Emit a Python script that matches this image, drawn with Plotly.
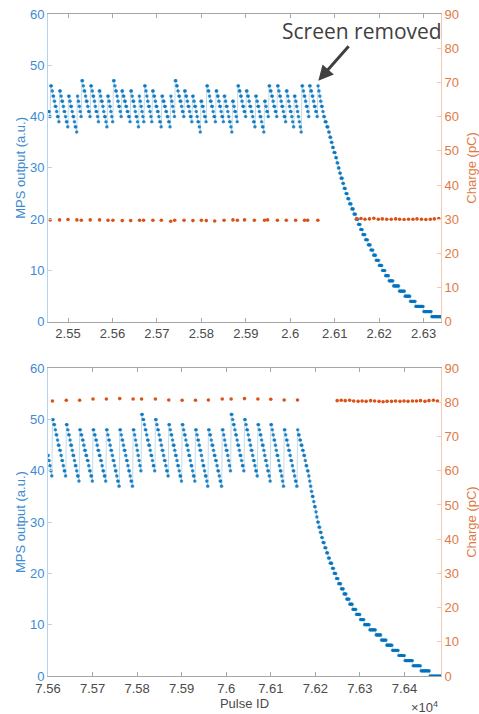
import plotly.graph_objects as go

# ---------------- DATA ----------------
# Top panel: MPS output (a.u.), integer levels. Each sawtooth starts at a pulse ID
top_tooth_start = [25456, 25461, 25481, 25501, 25521, 25531, 25551, 25570, 25589,
                   25602, 25621, 25641, 25660, 25672, 25690, 25711, 25731, 25741,
                   25762, 25780, 25799, 25812, 25833, 25851, 25870, 25882, 25901,
                   25922, 25942, 25952, 25971, 25991, 26009, 26026, 26043]
top_tooth_levels = [
    [41, 40],
    [46, 45, 44, 43, 42, 41, 40, 39],
    [45, 44, 43, 42, 41, 40, 39, 38],
    [44, 43, 42, 41, 40, 39, 38, 37],
    [44, 43, 42, 41, 40],
    [47, 46, 45, 44, 43, 42, 41, 40],
    [46, 45, 44, 43, 42, 41, 40, 39],
    [45, 44, 43, 42, 41, 40, 39, 38],
    [44, 43, 42, 41, 40, 39],
    [47, 46, 45, 44, 43, 42, 41, 40],
    [45, 44, 43, 42, 41, 40, 39],
    [45, 44, 43, 42, 41, 40, 39, 38],
    [44, 43, 42, 41, 40, 39],
    [46, 45, 44, 43, 42, 41, 40, 39],
    [45, 44, 43, 42, 41, 40, 39, 38],
    [44, 43, 42, 41, 40, 39, 38],
    [44, 43, 42, 41, 40],
    [47, 46, 45, 44, 43, 42, 41, 40],
    [45, 44, 43, 42, 41, 40, 39],
    [44, 43, 42, 41, 40, 39, 38, 37],
    [43, 42, 41, 40, 39],
    [46, 45, 44, 43, 42, 41, 40, 39],
    [45, 44, 43, 42, 41, 40, 39],
    [44, 43, 42, 41, 40, 39, 38, 37],
    [43, 42, 41, 40, 39],
    [46, 45, 44, 43, 42, 41, 40],
    [45, 44, 43, 42, 41, 40, 39, 38],
    [44, 43, 42, 41, 40, 39, 38, 37],
    [43, 42, 41, 40],
    [46, 45, 44, 43, 42, 41, 40],
    [46, 45, 44, 43, 42, 41, 40, 39],
    [45, 44, 43, 42, 41, 40, 39, 38],
    [44, 43, 42, 41, 40, 39, 38, 37],
    [46, 45, 44, 43, 42, 41, 40],
    [46, 45, 44, 43, 42, 41, 40],
]
# After the screen is removed: level and the pulse ID where that level begins
top_decay_level = [46, 45, 44, 43, 42, 41, 40, 39, 38, 37, 36, 35, 34, 33, 32, 31,
                   30, 29, 28, 27, 26, 25, 24, 23, 22, 21, 20, 19, 18, 17, 16, 15,
                   14, 13, 12, 11, 10, 9, 8, 7, 6, 5, 4, 3, 2, 1]
top_decay_start = [26062, 26064, 26066, 26068, 26070, 26073, 26075, 26078, 26082,
                   26086, 26089, 26092, 26095, 26098, 26102, 26105, 26108, 26111,
                   26114, 26118, 26121, 26125, 26129, 26133, 26138, 26143, 26148,
                   26153, 26158, 26163, 26169, 26175, 26181, 26187, 26193, 26200,
                   26207, 26214, 26222, 26232, 26245, 26258, 26270, 26282, 26300,
                   26318]
top_decay_end = 26340

# Top panel: charge (pC)
top_q_x = [25460, 25481, 25500, 25520, 25530, 25550, 25571, 25590, 25601, 25622,
           25641, 25661, 25670, 25691, 25710, 25731, 25740, 25761, 25781, 25800,
           25811, 25830, 25851, 25871, 25881, 25897, 25919, 25942, 25949, 25971,
           25991, 26012, 26032, 26039, 26062,
           26149, 26159, 26168, 26178, 26188, 26198, 26207, 26217, 26227, 26237,
           26246, 26256, 26266, 26276, 26285, 26295, 26305, 26315, 26324, 26334]
top_q = [29.8, 29.8, 29.9, 29.8, 29.7, 29.8, 29.8, 29.7, 29.7, 29.6,
         29.6, 29.7, 29.7, 29.7, 29.7, 29.4, 29.7, 29.7, 29.6, 29.7,
         29.6, 29.5, 29.7, 29.8, 29.7, 29.8, 29.7, 29.7, 29.8, 29.7,
         29.7, 29.7, 29.7, 29.7, 29.7,
         30.1, 30.2, 30.0, 30.1, 30.3, 30.0, 30.1, 30.0, 30.0, 30.1,
         30.0, 29.9, 30.0, 30.0, 30.1, 30.0, 29.9, 30.0, 30.1, 30.2]

# Bottom panel: MPS output (a.u.)
bot_tooth_start = [75600, 75610, 75641, 75671, 75701, 75731, 75761, 75791, 75810,
                   75841, 75871, 75901, 75931, 75960, 75991, 76011, 76041, 76071,
                   76100, 76130]
bot_tooth_levels = [
    [43, 42, 41, 40, 39],
    [50, 49, 48, 47, 46, 45, 44, 43, 42, 41, 40, 39],
    [49, 48, 47, 46, 45, 44, 43, 42, 41, 40, 39, 38],
    [48, 47, 46, 45, 44, 43, 42, 41, 40, 39, 38],
    [48, 47, 46, 45, 44, 43, 42, 41, 40, 39, 38],
    [48, 47, 46, 45, 44, 43, 42, 41, 40, 39, 38, 37],
    [48, 47, 46, 45, 44, 43, 42, 41, 40, 39, 38, 37],
    [48, 47, 46, 45, 44, 43, 42, 41, 40],
    [51, 50, 49, 48, 47, 46, 45, 44, 43, 42, 41, 40],
    [50, 49, 48, 47, 46, 45, 44, 43, 42, 41, 40, 39],
    [49, 48, 47, 46, 45, 44, 43, 42, 41, 40, 39, 38],
    [49, 48, 47, 46, 45, 44, 43, 42, 41, 40, 39, 38],
    [48, 47, 46, 45, 44, 43, 42, 41, 40, 39, 38, 37],
    [48, 47, 46, 45, 44, 43, 42, 41, 40, 39, 38, 37],
    [48, 47, 46, 45, 44, 43, 42, 41, 40],
    [51, 50, 49, 48, 47, 46, 45, 44, 43, 42, 41, 40],
    [50, 49, 48, 47, 46, 45, 44, 43, 42, 41, 40, 39],
    [49, 48, 47, 46, 45, 44, 43, 42, 41, 40, 39, 38],
    [49, 48, 47, 46, 45, 44, 43, 42, 41, 40, 39, 38, 37],
    [48, 47, 46, 45, 44, 43, 42, 41, 40, 39, 38, 37],
]
bot_decay_level = [48, 47, 46, 45, 44, 43, 42, 41, 40, 39, 38, 37, 36, 35, 34, 33,
                   32, 31, 30, 29, 28, 27, 26, 25, 24, 23, 22, 21, 20, 19, 18, 17,
                   16, 15, 14, 13, 12, 11, 10, 9, 8, 7, 6, 5, 4, 3, 2, 1, 0]
bot_decay_start = [76160, 76162, 76165, 76168, 76171, 76174, 76177, 76179, 76182,
                   76185, 76187, 76189, 76191, 76193, 76196, 76198, 76201, 76203,
                   76205, 76208, 76211, 76214, 76217, 76221, 76225, 76229, 76233,
                   76238, 76242, 76247, 76252, 76258, 76264, 76270, 76277, 76284,
                   76292, 76301, 76310, 76322, 76336, 76348, 76360, 76373, 76387,
                   76401, 76419, 76437, 76457]
bot_decay_end = 76483

bot_q_x = [75610, 75641, 75671, 75701, 75731, 75761, 75791, 75810, 75841, 75871,
           75901, 75931, 75960, 75991, 76011, 76041, 76071, 76100, 76130, 76160,
           76249, 76258, 76267, 76277, 76286, 76296, 76305, 76314, 76324, 76333,
           76343, 76352, 76361, 76371, 76380, 76390, 76399, 76408, 76418, 76427,
           76436, 76446, 76455, 76465, 76474]
bot_q = [80.4, 80.6, 80.6, 81.0, 81.0, 81.1, 81.0, 81.0, 81.0, 80.7,
         80.6, 80.6, 80.7, 81.0, 81.0, 81.1, 81.0, 80.9, 80.7, 80.7,
         80.5, 80.6, 80.5, 80.6, 80.4, 80.3, 80.4, 80.3, 80.5, 80.4,
         80.3, 80.2, 80.3, 80.3, 80.4, 80.3, 80.4, 80.3, 80.4, 80.4,
         80.5, 80.3, 80.5, 80.6, 80.4]

top_ticks = [25500, 25600, 25700, 25800, 25900, 26000, 26100, 26200, 26300]
top_ticktext = ["2.55", "2.56", "2.57", "2.58", "2.59", "2.6", "2.61", "2.62", "2.63"]
bot_ticks = [75600, 75700, 75800, 75900, 76000, 76100, 76200, 76300, 76400]
bot_ticktext = ["7.56", "7.57", "7.58", "7.59", "7.6", "7.61", "7.62", "7.63", "7.64"]


# ---------------- expand the read levels to one sample per pulse ----------------
def expand(tooth_start, tooth_levels, decay_level, decay_start, decay_end):
    xs, ys = [], []
    ends = tooth_start[1:] + [decay_start[0]]
    for s, e, lv in zip(tooth_start, ends, tooth_levels):
        n = len(lv)
        for p in range(s, e):
            k = min(int((p - s) * n / (e - s)), n - 1)
            xs.append(p)
            ys.append(lv[k])
    dends = decay_start[1:] + [decay_end]
    for lv, s, e in zip(decay_level, decay_start, dends):
        for p in range(s, e):
            xs.append(p)
            ys.append(lv)
    return xs, ys


top_x, top_y = expand(top_tooth_start, top_tooth_levels, top_decay_level,
                      top_decay_start, top_decay_end)
bot_x, bot_y = expand(bot_tooth_start, bot_tooth_levels, bot_decay_level,
                      bot_decay_start, bot_decay_end)

BLUE = "#0072BD"
ORANGE = "#D95319"
BLUE_TXT = "#3d8bd1"
ORANGE_TXT = "#e07a45"
BLUE_LINE = "#b3d4ee"
ORANGE_LINE = "#f6c9b0"
GRAY_TXT = "#4a4a4a"
FONT = "Liberation Sans"

fig = go.Figure()

blue_marker = dict(size=3.2, color=BLUE, opacity=0.6)
blue_line = dict(color="rgba(0,114,189,0.25)", width=1)
orange_marker = dict(size=3.6, color=ORANGE)

fig.add_trace(go.Scatter(x=top_x, y=top_y, mode="lines+markers", marker=blue_marker,
                         line=blue_line, xaxis="x", yaxis="y", showlegend=False))
fig.add_trace(go.Scatter(x=top_q_x, y=top_q, mode="markers", marker=orange_marker,
                         xaxis="x", yaxis="y2", showlegend=False))
fig.add_trace(go.Scatter(x=bot_x, y=bot_y, mode="lines+markers", marker=blue_marker,
                         line=blue_line, xaxis="x2", yaxis="y3", showlegend=False))
fig.add_trace(go.Scatter(x=bot_q_x, y=bot_q, mode="markers", marker=orange_marker,
                         xaxis="x2", yaxis="y4", showlegend=False))

xcommon = dict(showgrid=False, zeroline=False, showline=True, linecolor="#a6a6a6",
               linewidth=1, mirror="ticks", ticks="inside", ticklen=4,
               tickcolor="#a6a6a6", automargin=False,
               tickfont=dict(family=FONT, size=13, color=GRAY_TXT))
yleft = dict(showgrid=False, zeroline=False, showline=True, linecolor=BLUE_LINE,
             linewidth=1, ticks="inside", ticklen=4, tickcolor=BLUE_LINE,
             tickvals=[0, 10, 20, 30, 40, 50, 60], range=[0, 60], automargin=False,
             tickfont=dict(family=FONT, size=13, color=BLUE_TXT),
             title=dict(text="MPS output (a.u.)", standoff=1,
                        font=dict(family=FONT, size=13, color=BLUE_TXT)))
yright = dict(showgrid=False, zeroline=False, showline=True, linecolor=ORANGE_LINE,
              linewidth=1, ticks="inside", ticklen=4, tickcolor=ORANGE_LINE,
              tickvals=[0, 10, 20, 30, 40, 50, 60, 70, 80, 90], range=[0, 90],
              side="right", automargin=False,
              tickfont=dict(family=FONT, size=13, color=ORANGE_TXT),
              title=dict(text="Charge (pC)", standoff=10,
                         font=dict(family=FONT, size=13, color=ORANGE_TXT)))

fig.update_layout(
    width=479, height=714,
    margin=dict(l=48, r=38, t=14, b=38),
    paper_bgcolor="white", plot_bgcolor="white",
    xaxis=dict(xcommon, domain=[0, 1], anchor="y", range=[25455, 26339],
               tickvals=top_ticks, ticktext=top_ticktext),
    yaxis=dict(yleft, domain=[0.535, 1], anchor="x"),
    yaxis2=dict(yright, overlaying="y", anchor="x"),
    xaxis2=dict(xcommon, domain=[0, 1], anchor="y3", range=[75600, 76482],
                tickvals=bot_ticks, ticktext=bot_ticktext,
                title=dict(text="Pulse ID", standoff=3,
                           font=dict(family=FONT, size=13, color=GRAY_TXT))),
    yaxis3=dict(yleft, domain=[0, 0.465], anchor="x2"),
    yaxis4=dict(yright, overlaying="y3", anchor="x2"),
    annotations=[
        dict(x=26063, y=47, xref="x", yref="y", text="Screen removed",
             showarrow=True, ax=44, ay=-50, arrowhead=2, arrowsize=1,
             arrowwidth=3, arrowcolor="#404040",
             font=dict(family="Open Sans", size=21, color="#404040")),
        dict(x=0.957, y=-0.047, xref="paper", yref="paper", text="×10<sup>4</sup>",
             showarrow=False, xanchor="center", yanchor="middle",
             font=dict(family=FONT, size=13, color=GRAY_TXT)),
    ],
)

fig.write_html("out.html")
